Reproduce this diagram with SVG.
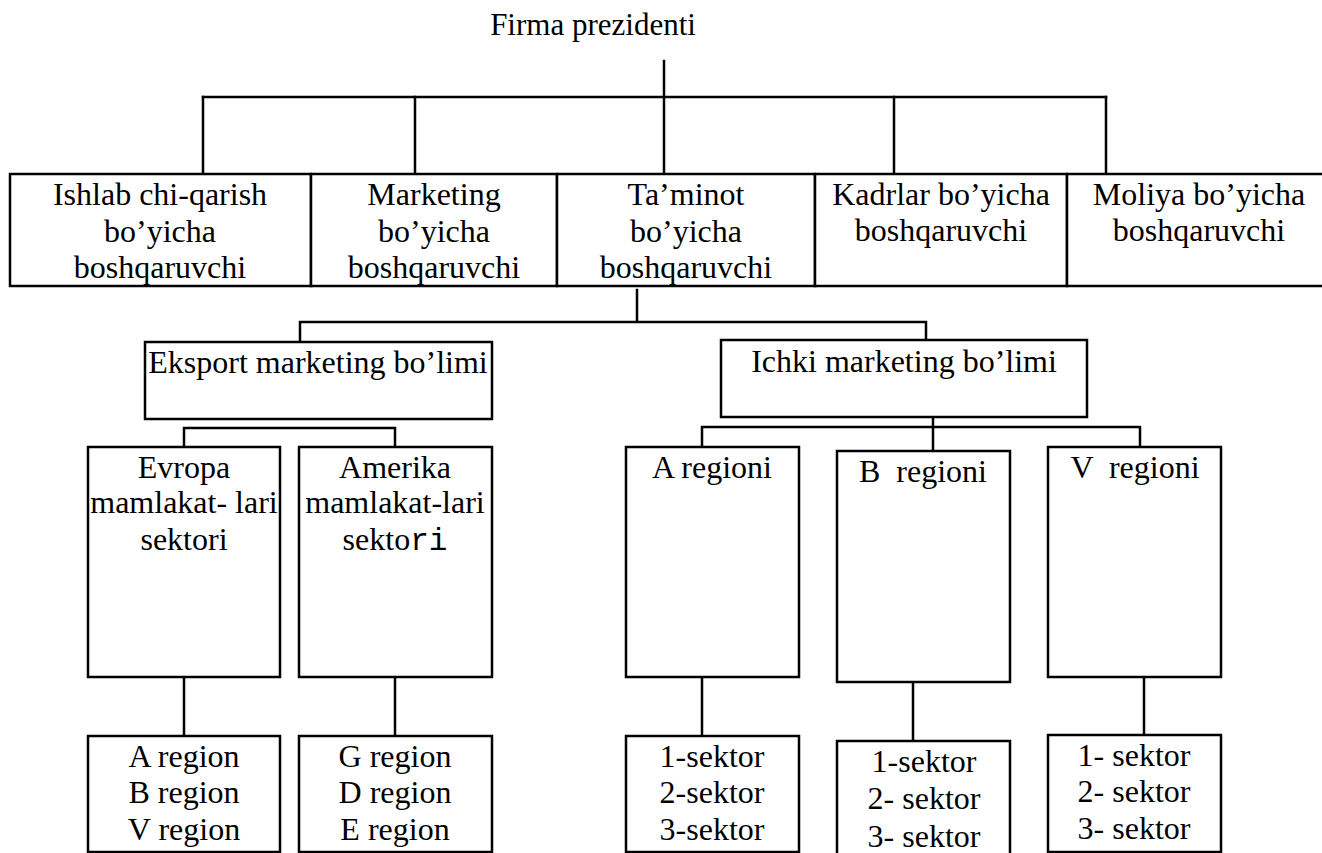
<svg xmlns="http://www.w3.org/2000/svg" width="1322" height="853" viewBox="0 0 1322 853">
<style>
  .box { fill: #fff; stroke: #000; stroke-width: 2.5; }
  .ln { fill: none; stroke: #000; stroke-width: 2.5; stroke-linecap: square; }
  text { font-family: "Liberation Serif", "Times New Roman", serif; font-size: 32px; fill: #000; text-anchor: middle; }
  .mono { font-family: "Liberation Mono", "Courier New", monospace; }
</style>
<rect width="1322" height="853" fill="#fff"/>
<g id="connectors">
  <path class="ln" d="M664 61 V174"/>
  <path class="ln" d="M203 97 H1106"/>
  <path class="ln" d="M203 97 V174 M415 97 V174 M894 97 V174 M1106 97 V174"/>
  <path class="ln" d="M637 290 V322 M300 322 H926 M300 322 V342 M926 322 V340"/>
  <path class="ln" d="M184 428 H395 M184 428 V447 M395 428 V447"/>
  <path class="ln" d="M933 414 V451 M702 427 H1140 M702 427 V447 M1140 427 V447"/>
  <path class="ln" d="M184 677 V736 M395 677 V736"/>
  <path class="ln" d="M702 677 V736 M913 682 V741 M1144 677 V735"/>
</g>
<g id="president">
  <text x="593" y="35" style="font-size:31px">Firma prezidenti</text>
</g>
<g id="ishlab">
  <rect class="box" x="10" y="174" width="301" height="112"/>
  <text x="160" y="205">Ishlab chi-qarish</text>
  <text x="160" y="242">bo’yicha</text>
  <text x="160" y="278">boshqaruvchi</text>
</g>
<g id="marketing">
  <rect class="box" x="311" y="174" width="246" height="112"/>
  <text x="434" y="205">Marketing</text>
  <text x="434" y="242">bo’yicha</text>
  <text x="434" y="278">boshqaruvchi</text>
</g>
<g id="taminot">
  <rect class="box" x="557" y="174" width="258" height="112"/>
  <text x="686" y="205">Ta’minot</text>
  <text x="686" y="242">bo’yicha</text>
  <text x="686" y="278">boshqaruvchi</text>
</g>
<g id="kadrlar">
  <rect class="box" x="815" y="174" width="252" height="112"/>
  <text x="941" y="205">Kadrlar bo’yicha</text>
  <text x="941" y="241">boshqaruvchi</text>
</g>
<g id="moliya">
  <rect class="box" x="1067" y="174" width="280" height="112"/>
  <text x="1199" y="205">Moliya bo’yicha</text>
  <text x="1199" y="241">boshqaruvchi</text>
</g>
<g id="eksport">
  <rect class="box" x="145" y="342" width="347" height="77"/>
  <text x="318" y="373">Eksport marketing bo’limi</text>
</g>
<g id="ichki">
  <rect class="box" x="721" y="340" width="366" height="77"/>
  <text x="904" y="372">Ichki marketing bo’limi</text>
</g>
<g id="evropa">
  <rect class="box" x="88" y="447" width="192" height="230"/>
  <text x="184" y="478">Evropa</text>
  <text x="184" y="513">mamlakat- lari</text>
  <text x="184" y="550">sektori</text>
</g>
<g id="amerika">
  <rect class="box" x="299" y="447" width="193" height="230"/>
  <text x="395" y="478">Amerika</text>
  <text x="395" y="513">mamlakat-lari</text>
  <text x="395" y="550">sekto<tspan class="mono" style="font-size:31px">ri</tspan></text>
</g>
<g id="a-regioni">
  <rect class="box" x="626" y="447" width="173" height="230"/>
  <text x="712" y="478">A regioni</text>
</g>
<g id="b-regioni">
  <rect class="box" x="837" y="451" width="173" height="231"/>
  <text x="923" y="482" xml:space="preserve">B  regioni</text>
</g>
<g id="v-regioni">
  <rect class="box" x="1048" y="447" width="173" height="230"/>
  <text x="1135" y="478" xml:space="preserve">V  regioni</text>
</g>
<g id="evropa-regions">
  <rect class="box" x="88" y="736" width="192" height="116"/>
  <text x="184" y="767">A region</text>
  <text x="184" y="803">B region</text>
  <text x="184" y="840">V region</text>
</g>
<g id="amerika-regions">
  <rect class="box" x="299" y="736" width="193" height="116"/>
  <text x="395" y="767">G region</text>
  <text x="395" y="803">D region</text>
  <text x="395" y="840">E region</text>
</g>
<g id="a-sektors">
  <rect class="box" x="626" y="736" width="173" height="116"/>
  <text x="712" y="767">1-sektor</text>
  <text x="712" y="803">2-sektor</text>
  <text x="712" y="840">3-sektor</text>
</g>
<g id="b-sektors">
  <rect class="box" x="837" y="741" width="173" height="120"/>
  <text x="924" y="772">1-sektor</text>
  <text x="924" y="809">2- sektor</text>
  <text x="924" y="847">3- sektor</text>
</g>
<g id="v-sektors">
  <rect class="box" x="1048" y="735" width="173" height="117"/>
  <text x="1134" y="766">1- sektor</text>
  <text x="1134" y="802">2- sektor</text>
  <text x="1134" y="839">3- sektor</text>
</g>
</svg>
